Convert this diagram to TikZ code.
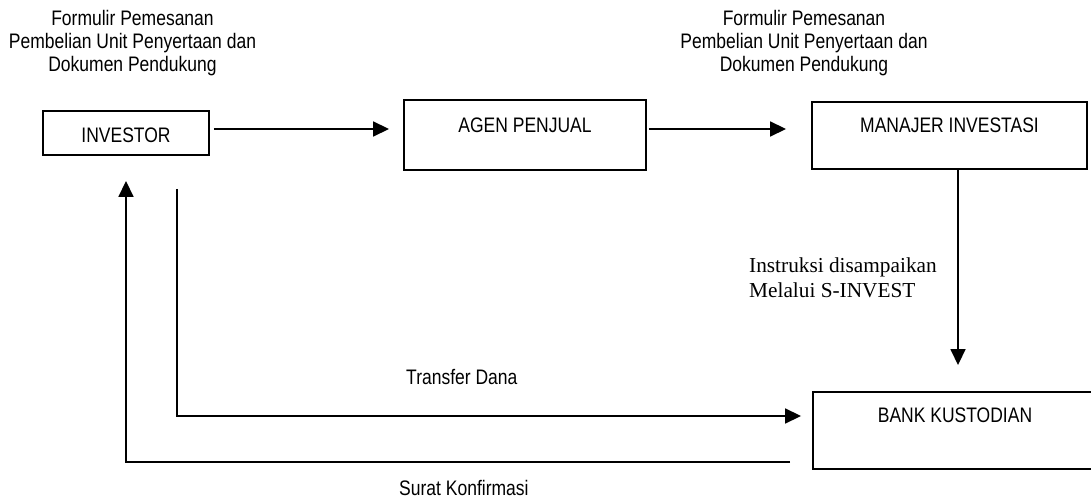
\documentclass[tikz,border=0pt]{standalone}
\usepackage{fontspec}
\usepackage{graphicx}
\setmainfont{Liberation Serif}
\setsansfont{Liberation Sans}
\usetikzlibrary{arrows.meta,calc}
\newcommand{\vstretch}[1]{\scalebox{1}[1.2]{#1}}
\begin{document}
\begin{tikzpicture}[x=1pt,y=-1pt,
  box/.style={draw,line width=1.9pt,rectangle,inner sep=0pt},
  sans/.style={font=\sffamily\fontsize{17.5}{19.2}\selectfont,inner sep=0pt},
  serifl/.style={font=\rmfamily\fontsize{21.3}{25}\selectfont,inner sep=0pt},
  arr/.style={line width=1.7pt,-{Triangle[length=16pt,width=15pt]}}]
\useasboundingbox (0,0) rectangle (1091,502);
% boxes
\node[box,minimum width=166pt,minimum height=44pt] (inv) at (126,133) {};
\node[sans,yshift=-2.5pt] (invt) at (inv.center) {\vstretch{INVESTOR}};
\node[box,minimum width=242pt,minimum height=70pt] (agen) at (525,135) {};
\node[sans,yshift=9.5pt] (agent) at (agen.center) {\vstretch{AGEN PENJUAL}};
\node[box,minimum width=275pt,minimum height=67pt] (mi) at (949.5,135.5) {};
\node[sans,yshift=10pt] (mit) at (mi.center) {\vstretch{MANAJER INVESTASI}};
\node[box,minimum width=284pt,minimum height=77pt] (bank) at (955,430.5) {};
\node[sans,yshift=15pt] (bankt) at (bank.center) {\vstretch{BANK KUSTODIAN}};
% labels
\node[sans] (lab1) at (132.5,44) {\vstretch{\begin{tabular}{@{}c@{}}Formulir Pemesanan\\Pembelian Unit Penyertaan dan\\Dokumen Pendukung\end{tabular}}};
\node[sans] (lab2) at (804,44) {\vstretch{\begin{tabular}{@{}c@{}}Formulir Pemesanan\\Pembelian Unit Penyertaan dan\\Dokumen Pendukung\end{tabular}}};
\node[serifl,align=left,anchor=west] (instr) at (749,278) {Instruksi disampaikan\\Melalui S-INVEST};
\node[sans,anchor=base west] (tf) at (406,384) {\vstretch{Transfer Dana}};
\node[sans,anchor=base west] (sk) at (399,495) {\vstretch{Surat Konfirmasi}};
% connectors
\draw[arr,shorten <=4pt,shorten >=14pt] ([yshift=4pt]inv.east) -- ([yshift=4pt]inv.east -| agen.west);
\draw[arr,shorten <=2pt,shorten >=25pt] ([yshift=6pt]agen.east) -- ([yshift=6pt]agen.east -| mi.west);
\draw[arr,shorten >=26pt] ([xshift=8.5pt]mi.south) -- ([xshift=8.5pt]mi.south |- bank.north);
\draw[arr,shorten <=33pt,shorten >=11pt] ([xshift=51pt]inv.south) |- ([yshift=14.5pt]bank.west);
\draw[arr,shorten <=22pt,shorten >=25pt] ([yshift=-31.5pt]bank.west) -| (inv.south);
\end{tikzpicture}
\end{document}
